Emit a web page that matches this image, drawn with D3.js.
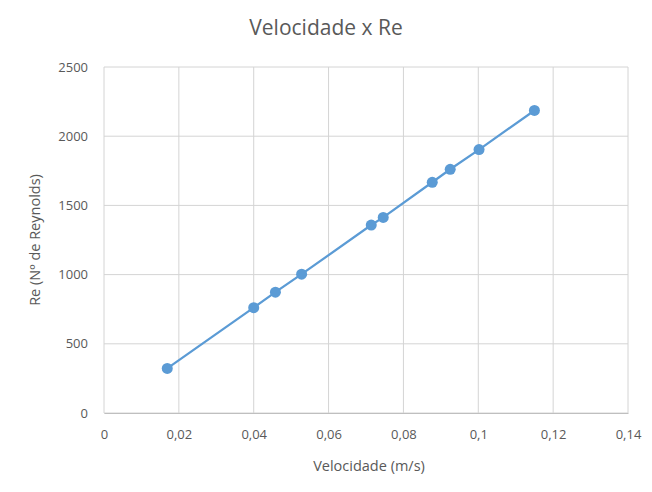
<!DOCTYPE html>
<html>
<head>
<meta charset="utf-8">
<script src="https://cdn.jsdelivr.net/npm/d3@7"></script>
<style>
  body { margin: 0; background: #fff; }
  text { font-family: "Open Sans", "Liberation Sans", sans-serif; fill: #595959; }
</style>
</head>
<body>
<svg width="652" height="492"></svg>
<script>
"use strict";

// Data
var velocidade = [0.0169, 0.0400, 0.0458, 0.0528, 0.0714, 0.0746, 0.0877, 0.0925, 0.1002, 0.1150];
var reynolds = [322, 761, 873, 1003, 1358, 1413, 1667, 1761, 1903, 2186];
var xTicks = [0, 0.02, 0.04, 0.06, 0.08, 0.1, 0.12, 0.14];
var yTicks = [0, 500, 1000, 1500, 2000, 2500];

var svg = d3.select("svg");
var margin = {left: 104, right: 24, top: 67, bottom: 79};
var width = 652 - margin.left - margin.right;
var height = 492 - margin.top - margin.bottom;

var xScale = d3.scaleLinear().domain([0, 0.14]).range([0, width]);
var yScale = d3.scaleLinear().domain([0, 2500]).range([height, 0]);

var chart = svg.append("g")
    .attr("transform", "translate(" + margin.left + "," + margin.top + ")");

// Gridlines
chart.append("g")
    .selectAll("line.vx")
    .data(xTicks)
    .enter().append("line")
        .attr("x1", function(d) { return xScale(d); })
        .attr("x2", function(d) { return xScale(d); })
        .attr("y1", 0)
        .attr("y2", height)
        .attr("stroke", "#d4d4d4")
        .attr("stroke-width", 1);

chart.append("g")
    .selectAll("line.hy")
    .data(yTicks)
    .enter().append("line")
        .attr("x1", 0)
        .attr("x2", width)
        .attr("y1", function(d) { return yScale(d); })
        .attr("y2", function(d) { return yScale(d); })
        .attr("stroke", "#d4d4d4")
        .attr("stroke-width", 1);

// Axes
var fmt = function(d) { return String(d).replace(".", ","); };

var xAxis = chart.append("g")
    .attr("transform", "translate(0," + height + ")")
    .call(d3.axisBottom(xScale).tickValues(xTicks).tickSize(0).tickPadding(17).tickFormat(fmt));
xAxis.select(".domain").attr("stroke", "#bfbfbf");
xAxis.selectAll("text").style("font-size", "13px").attr("fill", "#595959");

var yAxis = chart.append("g")
    .call(d3.axisLeft(yScale).tickValues(yTicks).tickSize(0).tickPadding(16).tickFormat(fmt));
yAxis.select(".domain").remove();
yAxis.selectAll("text").style("font-size", "13px").attr("fill", "#595959");

// Series line
var line = d3.line()
    .x(function(d, i) { return xScale(velocidade[i]); })
    .y(function(d) { return yScale(d); });

chart.append("path")
    .datum(reynolds)
    .attr("d", line)
    .attr("fill", "none")
    .attr("stroke", "#5b9bd5")
    .attr("stroke-width", 2.25);

// Markers
chart.append("g")
    .selectAll("circle")
    .data(reynolds)
    .enter().append("circle")
        .attr("cx", function(d, i) { return xScale(velocidade[i]); })
        .attr("cy", function(d) { return yScale(d); })
        .attr("r", 5.5)
        .attr("fill", "#5b9bd5");

// Title and axis labels
svg.append("text")
    .attr("x", 326)
    .attr("y", 35)
    .style("text-anchor", "middle")
    .style("font-size", "21px")
    .text("Velocidade x Re");

svg.append("text")
    .attr("x", margin.left + width / 2 + 3)
    .attr("y", 471)
    .style("text-anchor", "middle")
    .style("font-size", "14.5px")
    .text("Velocidade (m/s)");

svg.append("text")
    .attr("transform", "translate(40," + (margin.top + height / 2) + ") rotate(-90)")
    .style("text-anchor", "middle")
    .style("font-size", "14.5px")
    .text("Re (Nº de Reynolds)");
</script>
</body>
</html>
